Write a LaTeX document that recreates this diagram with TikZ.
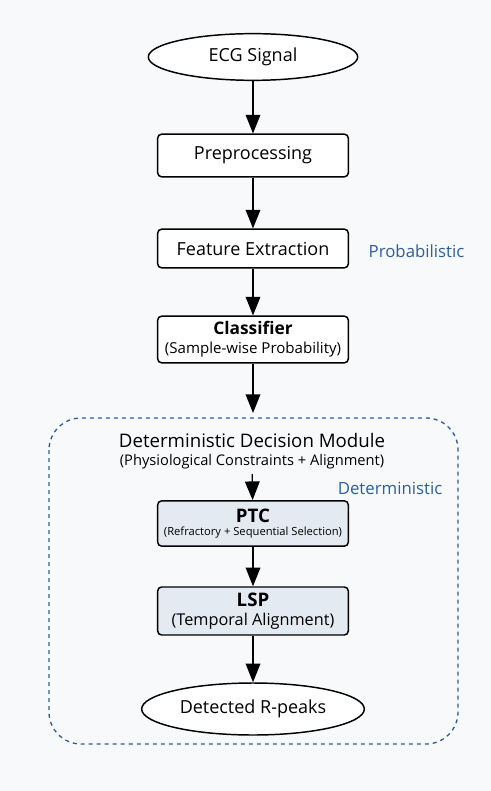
\documentclass[tikz,border=0pt]{standalone}
\usepackage{fontspec}
\setmainfont{Open Sans}
\usetikzlibrary{arrows.meta,shapes.geometric}
\definecolor{bg}{HTML}{F8F9FA}
\definecolor{detblue}{HTML}{2D5E9E}
\definecolor{boxfill}{HTML}{E4EAF2}

\tikzset{
    stepbox/.style={draw, rectangle, rounded corners=3pt, line width=1.1pt, fill=white,
        minimum width=143pt, align=center, inner sep=2pt},
    endbox/.style={draw, ellipse, line width=1.1pt, fill=white, inner sep=0pt},
    sidetext/.style={text=detblue, font=\fontsize{12.6}{14}\selectfont}
}

\begin{document}
\begin{tikzpicture}[x=0.75pt,y=-0.75pt,>={Triangle[length=14pt,width=11pt]}]
        \fill[bg] (0,0) rectangle (491,791);
        \draw[detblue, dashed, line width=1pt, dash pattern=on 3pt off 3pt, rounded corners=24pt]
            (49,418) rectangle (458,744);
        \node[endbox, minimum width=157pt, minimum height=35pt, font=\fontsize{13.5}{15}\selectfont] (1) at (253,57) {ECG Signal};
        \node[stepbox, minimum height=32pt, font=\fontsize{13.5}{15}\selectfont] (2) at (253,155.5) {Preprocessing};
        \node[stepbox, minimum height=29pt, font=\fontsize{13.5}{15}\selectfont] (3) at (253,248.5) {Feature Extraction};
        \node[stepbox, minimum height=35pt, font=\fontsize{11.3}{14}\selectfont] (4) at (253,339.5)
            {\textbf{\fontsize{13}{14}\selectfont Classifier}\\(Sample-wise Probability)};
        \node[sidetext, anchor=west] (p) at (364,251) {Probabilistic};
        \node[font=\fontsize{14}{16}\selectfont] (m) at (252,440) {Deterministic Decision Module};
        \node[font=\fontsize{11}{13}\selectfont] (c) at (252,462) {(Physiological Constraints + Alignment)};
        \node[sidetext, anchor=east] (d) at (447,488) {Deterministic};
        \node[stepbox, fill=boxfill, minimum height=34pt, font=\fontsize{8.4}{10}\selectfont] (5) at (253,523.5)
            {\textbf{\fontsize{14}{16}\selectfont PTC}\\(Refractory + Sequential Selection)};
        \node[stepbox, fill=boxfill, minimum height=36pt, font=\fontsize{12.2}{14}\selectfont] (6) at (253,611)
            {\textbf{\fontsize{14}{16}\selectfont LSP}\\(Temporal Alignment)};
        \node[endbox, minimum width=167pt, minimum height=39pt, font=\fontsize{13.5}{15}\selectfont] (7) at (253,709) {Detected R-peaks};
        \draw[->, line width=1pt] (1) -- (2);
        \draw[->, line width=1pt] (2) -- (3);
        \draw[->, line width=1pt] (3) -- (4);
        \draw[->, line width=1pt] (4) -- (253,413);
        \draw[->, line width=1pt] (c) -- (5);
        \draw[->, line width=1pt] (5) -- (6);
        \draw[->, line width=1pt] (6) -- (7);
    \end{tikzpicture}
\end{document}
